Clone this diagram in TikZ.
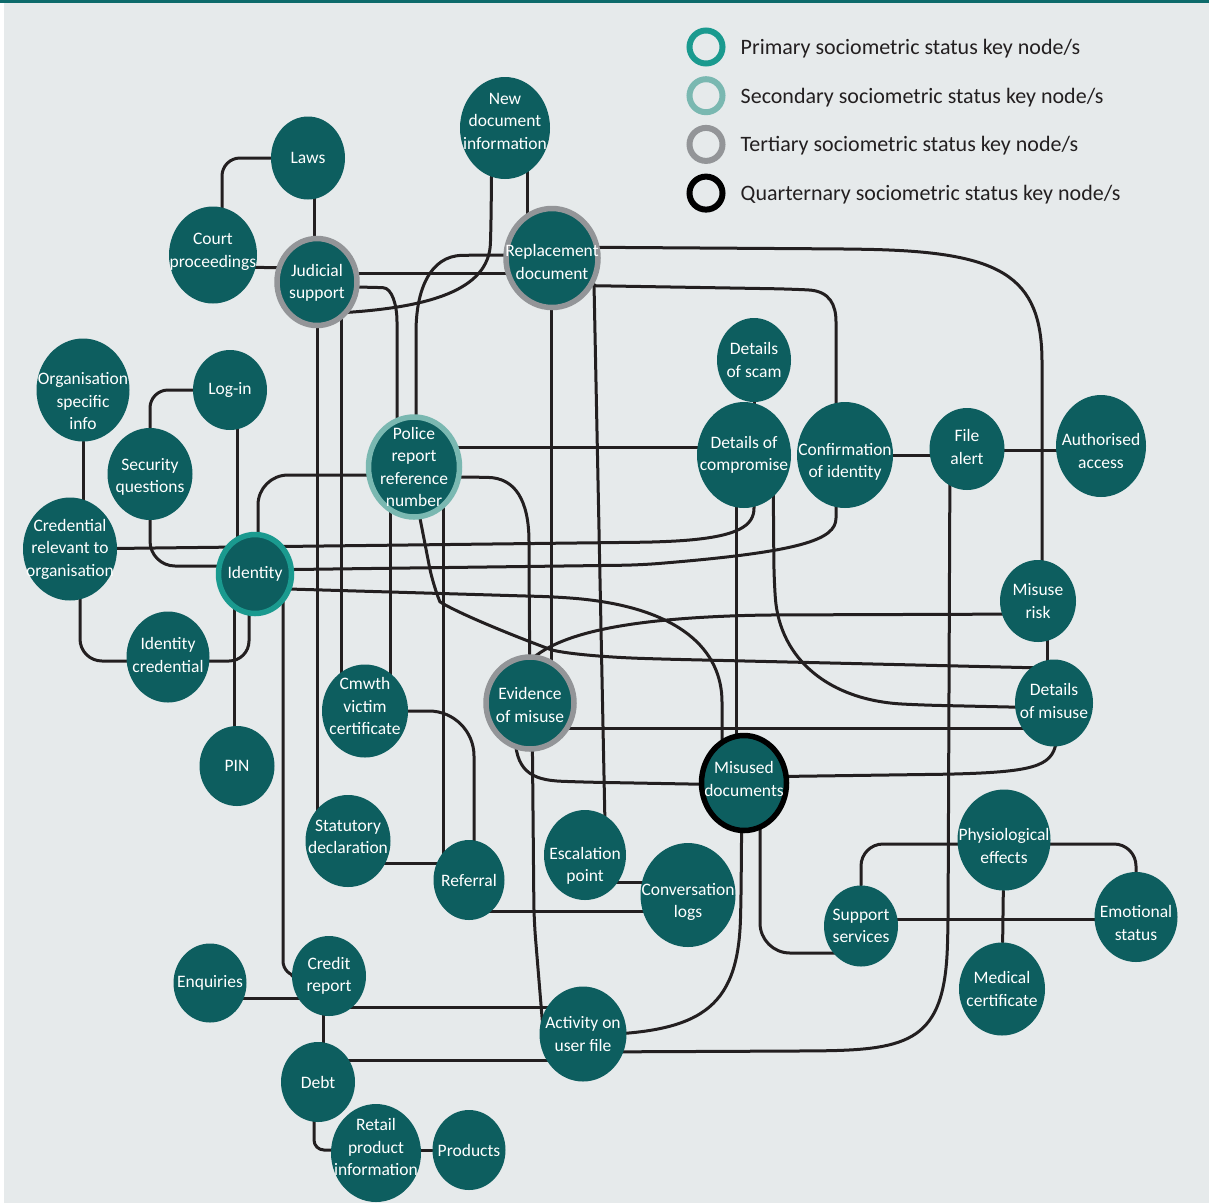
\documentclass[tikz,border=0pt]{standalone}
\usepackage{fontspec}
\setmainfont{Carlito}
\usetikzlibrary{shapes.geometric, positioning, calc}

\definecolor{paper}{HTML}{E6EAEB}
\definecolor{topline}{HTML}{0D6B6B}
\definecolor{deepteal}{HTML}{0D5E5F}
\definecolor{ringprimary}{HTML}{1A9A8F}
\definecolor{ringsecondary}{HTML}{7AB8B1}
\definecolor{ringtertiary}{HTML}{939598}
\definecolor{linkblack}{HTML}{231F20}

\newcommand{\conceptfont}{\fontsize{17.5}{22.5}\selectfont}
\newcommand{\keyfont}{\fontsize{22}{26}\selectfont}

\pgfdeclarelayer{backdrop}
\pgfdeclarelayer{links}
\pgfsetlayers{backdrop,links,main}

\begin{document}
\begin{tikzpicture}[x = 1pt, y = -1pt,
	concept/.style = {ellipse, fill = deepteal, inner sep = 0pt},
	conceptlabel/.style = {text = white, align = center, font = \conceptfont, inner sep = 0pt},
	keyplain/.style = {},
	keyprimary/.style = {draw = ringprimary, line width = 5.5pt},
	keysecondary/.style = {draw = ringsecondary, line width = 5.5pt},
	keytertiary/.style = {draw = ringtertiary, line width = 5.5pt},
	keyquaternary/.style = {draw = black, line width = 5.5pt},
	keyring/.style = {circle, minimum size = 33pt, inner sep = 0pt, line width = 6pt},
	keytext/.style = {text = linkblack, font = \keyfont, inner sep = 0pt},
	link/.style = {draw = linkblack, line width = 3pt, line cap = round, rounded corners = 18pt}]

	% Background
	
	\useasboundingbox (0, 0) rectangle (1209, 1203);
	
	\begin{pgfonlayer}{backdrop}
		\fill [paper] (0, 0) rectangle (1209, 1203);
		\fill [white] (0, 0) rectangle (4, 1203);
		\fill [topline] (0, 0) rectangle (1209, 2.5);
	\end{pgfonlayer}

	% Concepts
	
	\foreach \id/\x/\y/\w/\h/\ring/\dy/\txt in {
		laws/308/158/74/83/keyplain/0/Laws,
		newdoc/505/128/90/102/keyplain/-7/{New\\document\\information},
		court/213/255/88/97/keyplain/-3/{Court\\proceedings},
		judicial/317/282/80/87/keytertiary/1/{Judicial\\support},
		replacement/552/258/92/99/keytertiary/4/{Replacement\\document},
		orginfo/83/390/93/103/keyplain/11/{Organisation\\specific\\info},
		login/230/390/74/80/keyplain/0/Log-in,
		secq/150/474/85/92/keyplain/3/{Security\\questions},
		police/414/467/91/100/keysecondary/0/{Police\\report\\reference\\number},
		scam/754/360/74/84/keyplain/0/{Details\\of scam},
		compromise/744/455/94/106/keyplain/0/{Details of\\compromise},
		confirm/845/455/96/106/keyplain/7/{Confirmation\\of identity},
		filealert/967/449/75/82/keyplain/-2/{File\\alert},
		authorised/1101/446/90/102/keyplain/5/{Authorised\\access},
		credential/70/549/94/103/keyplain/0/{Credential\\relevant to\\organisation},
		identity/255/574/73/79/keyprimary/0/Identity,
		misuserisk/1038/601/76/82/keyplain/0/{Misuse\\risk},
		idcred/168/657/83/91/keyplain/-2/{Identity\\credential},
		cmwth/365/711/86/93/keyplain/-5/{Cmwth\\victim\\certificate},
		evidence/530/703/88/92/keytertiary/2/{Evidence\\of misuse},
		detmisuse/1054/703/78/87/keyplain/-2/{Details\\of misuse},
		pin/237/766/75/80/keyplain/0/PIN,
		misused/744/783/85/95/keyquaternary/-4/{Misused\\documents},
		statdecl/348/841/85/92/keyplain/-4/{Statutory\\declaration},
		referral/469/880/71/80/keyplain/0/Referral,
		escalation/585/855/82/90/keyplain/11/{Escalation\\point},
		convlogs/688/895/95/104/keyplain/7/{Conversation\\logs},
		physio/1004/840/93/101/keyplain/6/{Physiological\\effects},
		support/861/926/74/81/keyplain/0/{Support\\services},
		emotional/1136/917/83/90/keyplain/6/{Emotional\\status},
		medical/1002/989/86/93/keyplain/0/{Medical\\certificate},
		enquiries/210/983/73/79/keyplain/0/Enquiries,
		credit/329/976/74/80/keyplain/0/{Credit\\report},
		activity/583/1034/87/95/keyplain/0/{Activity on\\user file},
		debt/318/1082/74/80/keyplain/0/Debt,
		retail/376/1153/90/98/keyplain/-6/{Retail\\product\\information},
		products/469/1150/73/80/keyplain/0/Products}
	{
		\node [concept, \ring, minimum width = \w pt, minimum height = \h pt] (\id) at (\x, \y) {};
		\node [conceptlabel] at ($(\id) + (0, \dy)$) {\txt};
	}

	% Links
	
	\begin{pgfonlayer}{links}
	
		\draw [link] (laws) -| ($(court) + (9, 0)$);
		\draw [link] ($(laws) + (6, 0)$) -- ($(judicial) + (-3, 0)$);
		\draw [link] ($(court) + (0, 12)$) -- ($(judicial) + (0, -14)$);
		\draw [link] ($(judicial) + (0, -9)$) -- ($(replacement) + (0, 15)$);
		\draw [link] ($(newdoc) + (-13, 0)$) -- (491, 225) .. controls (489, 290) and (430, 308) .. ($(judicial) + (20, 31)$);
		\draw [link] ($(newdoc) + (22, 0)$) -- ($(replacement) + (-25, 0)$);
		\draw [link] ($(replacement) + (0, -3)$) -- (480, 255) .. controls (430, 256) and (416, 290) .. (416, 350) -- ($(police) + (2, 0)$);
		\draw [link] ($(judicial) + (0, 5)$) -- (365, 287) .. controls (392, 288) and (397, 305) .. (397, 340) -- ($(police) + (-17, 0)$);
		\draw [link] (judicial) -- (judicial |- statdecl);
		\draw [link] ($(judicial) + (24, 0)$) -- ($(cmwth) + (-24, 0)$);
		
		\draw [link] ($(replacement) + (0, -11)$) -- (850, 249) .. controls (1000, 252) and (1042, 275) .. (1042, 380) -- ($(misuserisk) + (4, 0)$);
		\draw [link] ($(replacement) + (0, 27)$) -- (790, 289) .. controls (830, 291) and (836, 305) .. (836, 340) -- ($(confirm) + (-9, 0)$);
		\draw [link] ($(replacement) + (-1, 0)$) -- ($(evidence) + (21, 0)$);
		\draw [link] ($(replacement) + (42, 26)$) -- ($(escalation) + (20, -30)$);
		
		\draw [link] (orginfo) -- ($(credential) + (13, 0)$);
		\draw [link] (login) -| (secq);
		\draw [link] ($(login) + (7, 0)$) -- ($(identity) + (-18, 0)$);
		\draw [link, rounded corners = 25pt] (secq) |- ($(identity) + (0, -8)$);
		\draw [link] (credential) -- (660, 542) .. controls (740, 537) and (754, 525) .. (754, 490) -- ($(compromise) + (10, 0)$);
		\draw [link] ($(identity) + (0, -4)$) -- (640, 565) .. controls (800, 552) and (836, 540) .. (836, 500) -- ($(confirm) + (-9, 0)$);
		\draw [link] ($(identity) + (0, 14)$) -- (560, 597) .. controls (680, 608) and (722, 650) .. (722, 720) -- ($(misused) + (-22, 0)$);
		\draw [link, rounded corners = 30pt] ($(identity) + (3, 0)$) |- ($(police) + (0, 8)$);
		\draw [link, rounded corners = 20pt] ($(identity) + (-6, 0)$) |- ($(idcred) + (0, 4)$);
		\draw [link] ($(identity) + (-21, 0)$) -- ($(pin) + (-3, 0)$);
		\draw [link, rounded corners = 22pt] ($(credential) + (10, 0)$) |- ($(idcred) + (0, 4)$);
		\draw [link, rounded corners = 15pt] ($(identity) + (28, 0)$) |- (credit);
		
		\draw [link] ($(police) + (-24, 0)$) -- ($(cmwth) + (25, 0)$);
		\draw [link] ($(police) + (29, 0)$) -- ($(referral) + (-26, 0)$);
		\draw [link] ($(police) + (0, -20)$) -- ($(compromise) + (0, -8)$);
		\draw [link] ($(police) + (0, 10)$) -- (470, 477) .. controls (515, 478) and (529, 500) .. (529, 560) -- (evidence);
		\draw [link] ($(police) + (-4, 0)$) -- (433, 585) .. controls (440, 602) and (455, 612) .. (533, 643) .. controls (560, 653) and (600, 657) .. (660, 659) -- ($(detmisuse) + (-10, -35)$);
		
		\draw [link] ($(misuserisk) + (0, 13)$) -- (760, 615) .. controls (600, 620) and (530, 640) .. ($(evidence) + (-15, -20)$);
		\draw [link] ($(misuserisk) + (9, 0)$) -- ($(detmisuse) + (-7, 0)$);
		\draw [link] ($(evidence) + (0, 25)$) -- ($(detmisuse) + (0, 25)$);
		\draw [link] ($(misused) + (0, -6)$) -- (960, 774) .. controls (1045, 770) and (1056, 762) .. ($(detmisuse) + (3, 30)$);
		\draw [link] ($(evidence) + (-15, 30)$) .. controls (515, 770) and (530, 780) .. (580, 782) -- ($(misused) + (0, 2)$);
		\draw [link] ($(compromise) + (-8, 0)$) -- ($(misused) + (-8, 0)$);
		\draw [link] ($(compromise) + (29, 0)$) -- (774, 580) .. controls (780, 660) and (830, 700) .. (920, 705) -- ($(detmisuse) + (0, 5)$);
		\draw [link] (scam) -- ($(compromise) + (10, 0)$);
		\draw [link] (confirm) -- ($(filealert) + (0, 6)$);
		\draw [link] ($(filealert) + (0, 1)$) -- ($(authorised) + (0, 4)$);
		\draw [link] ($(filealert) + (-17, 0)$) -- (948, 930) .. controls (944, 1040) and (910, 1050) .. (800, 1051) -- ($(activity) + (0, 18)$);
		
		\draw [link] ($(misused) + (-2, 0)$) -- (741, 900) .. controls (738, 1010) and (700, 1034) .. ($(activity) + (0, 1)$);
		\draw [link, rounded corners = 30pt] ($(misused) + (16, 0)$) |- ($(support) + (0, 27)$);
		\draw [link, rounded corners = 22pt] (support) |- ($(physio) + (0, 4)$);
		\draw [link, rounded corners = 22pt] ($(physio) + (0, 4)$) -| (emotional);
		\draw [link] (physio) -- (medical);
		\draw [link] ($(support) + (0, -7)$) -- ($(emotional) + (0, 2)$);
		
		\draw [link] ($(escalation) + (0, 27)$) -- ($(convlogs) + (0, -13)$);
		\draw [link] ($(referral) + (0, 31)$) -- ($(convlogs) + (0, 16)$);
		\draw [link] ($(statdecl) + (0, 22)$) -- ($(referral) + (0, -17)$);
		\draw [link, rounded corners = 45pt] (cmwth) -| ($(referral) + (5, 0)$);
		\draw [link] ($(evidence) + (2, 0)$) -- (534, 920) -- ($(activity) + (-40, -5)$);
		\draw [link] ($(enquiries) + (0, 15)$) -- ($(credit) + (0, 22)$);
		\draw [link] ($(credit) + (0, 31)$) -- ($(activity) + (0, -27)$);
		\draw [link] ($(credit) + (-6, 0)$) -- ($(debt) + (5, 0)$);
		\draw [link] ($(debt) + (0, -22)$) -- ($(activity) + (0, 26)$);
		\draw [link, rounded corners = 10pt] ($(debt) + (-4, 0)$) |- ($(retail) + (0, -3)$);
		\draw [link] ($(retail) + (0, -3)$) -- (products);
	
	\end{pgfonlayer}

	% Key
	
	\foreach \ring/\rank [count = \i] in {keyprimary/Primary, keysecondary/Secondary, keytertiary/Tertiary, keyquaternary/Quarternary}
	{
		\node [\ring, keyring] (key\i) at (706, {47 + 48.7 * (\i - 1)}) {};
		\node [keytext, right = 15pt of key\i, yshift = -1.5pt] {\rank{} sociometric status key node/s};
	}

\end{tikzpicture}
\end{document}
